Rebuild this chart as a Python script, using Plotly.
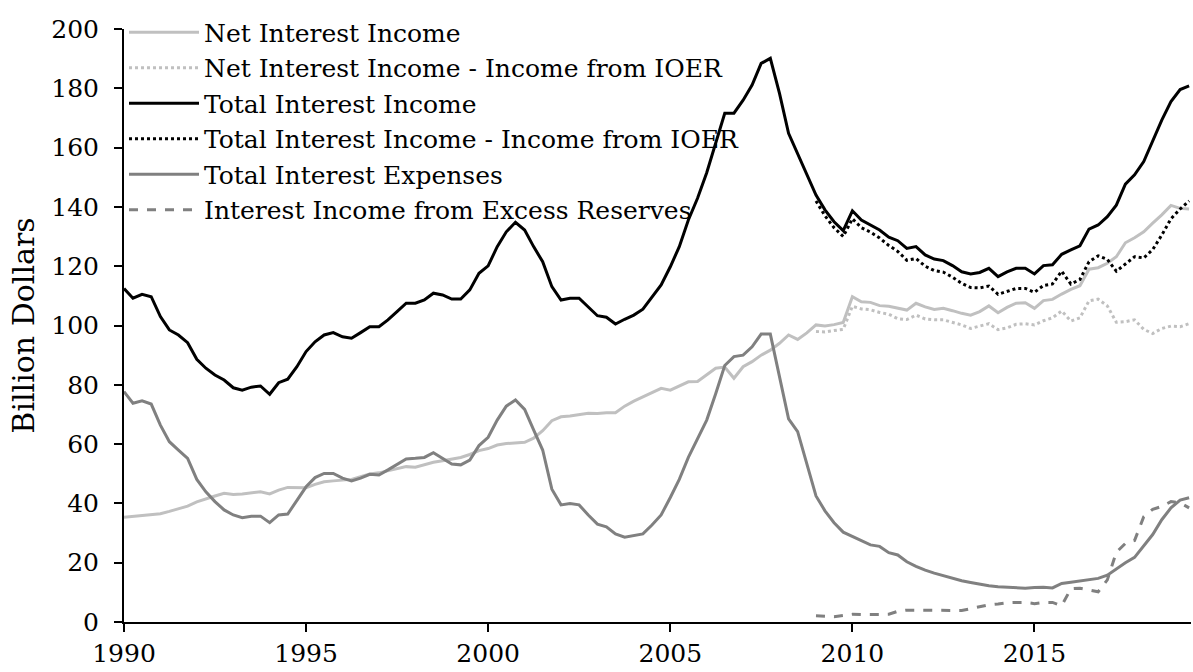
import pandas as pd
import plotly.graph_objects as go

# quarterly observations, 1990Q1 .. 2019Q2
quarters = pd.date_range("1990-01-01", "2019-04-01", freq="QS")
ioer_quarters = pd.date_range("2009-01-01", "2019-04-01", freq="QS")

net_interest_income = [
    35.3, 35.6, 35.9, 36.2, 36.5, 37.3, 38.2, 39.1, 40.5, 41.6, 42.5, 43.4,
    43.0, 43.2, 43.5, 43.9, 43.2, 44.5, 45.4, 45.4, 45.3, 46.4, 47.3, 47.6,
    47.9, 48.1, 49.0, 49.9, 50.3, 51.0, 51.8, 52.4, 52.2, 53.1, 53.9, 54.4,
    54.9, 55.5, 56.5, 57.8, 58.5, 59.7, 60.2, 60.5, 60.6, 62.0, 64.5, 67.9,
    69.2, 69.5, 70.0, 70.4, 70.3, 70.6, 70.6, 72.8, 74.5, 76.0, 77.5, 78.8,
    78.2, 79.5, 81.0, 81.1, 83.5, 85.6, 86.0, 82.2, 86.1, 87.8, 90.0, 91.7,
    94.0, 96.8, 95.3, 97.5, 100.2, 99.8, 100.3, 101.0, 109.7, 108.0, 107.8, 106.7,
    106.5, 105.8, 105.2, 107.5, 106.3, 105.4, 105.8, 105.0, 104.1, 103.5, 104.7, 106.6,
    104.3, 106.1, 107.5, 107.7, 105.8, 108.4, 108.8, 110.6, 112.2, 113.4, 119.0, 119.5,
    121.0, 123.2, 127.9, 129.6, 131.6, 134.5, 137.3, 140.5, 139.5, 139.3,
]

total_interest_income = [
    112.5, 109.2, 110.5, 109.7, 103.0, 98.5, 96.8, 94.2, 88.6, 85.6, 83.3, 81.6,
    79.0, 78.2, 79.2, 79.6, 76.8, 80.7, 81.9, 86.1, 91.2, 94.5, 96.8, 97.6,
    96.2, 95.7, 97.6, 99.6, 99.6, 101.9, 104.7, 107.5, 107.5, 108.6, 110.9, 110.3,
    108.9, 108.9, 112.0, 117.6, 120.1, 126.6, 131.6, 134.8, 132.2, 126.6, 121.5, 113.1,
    108.6, 109.2, 109.2, 106.3, 103.3, 102.8, 100.5, 102.1, 103.5, 105.5, 109.7, 113.7,
    119.8, 126.6, 135.6, 142.9, 151.5, 161.5, 171.6, 171.6, 176.0, 181.1, 188.4, 190.1,
    178.3, 164.8, 158.0, 151.0, 144.0, 139.0, 135.0, 132.0, 138.7, 135.6, 134.0, 132.2,
    129.8, 128.6, 126.0, 126.6, 123.8, 122.4, 121.9, 120.2, 118.1, 117.4, 117.9, 119.3,
    116.5, 118.1, 119.3, 119.3, 117.4, 120.2, 120.5, 124.0, 125.5, 126.9, 132.5, 133.9,
    136.7, 140.6, 147.7, 150.8, 155.3, 162.0, 169.3, 175.5, 179.6, 180.8,
]

total_interest_expenses = [
    77.7, 73.8, 74.6, 73.5, 66.4, 60.8, 58.0, 55.2, 48.1, 43.9, 40.6, 37.8,
    36.1, 35.2, 35.7, 35.7, 33.5, 36.1, 36.4, 41.1, 45.6, 48.7, 50.1, 50.1,
    48.5, 47.6, 48.5, 49.8, 49.6, 51.3, 53.2, 55.0, 55.2, 55.5, 57.1, 55.2,
    53.3, 53.0, 54.6, 59.5, 62.3, 68.1, 72.8, 74.9, 71.7, 64.8, 58.0, 44.8,
    39.5, 40.0, 39.5, 36.1, 33.0, 32.1, 29.7, 28.6, 29.1, 29.7, 32.7, 36.1,
    42.0, 48.1, 55.5, 61.9, 68.1, 77.0, 86.5, 89.5, 90.0, 92.8, 97.1, 97.1,
    83.0, 68.5, 64.2, 53.5, 42.5, 37.5, 33.5, 30.3, 28.8, 27.5, 26.0, 25.5,
    23.4, 22.6, 20.3, 18.8, 17.5, 16.5, 15.6, 14.7, 13.9, 13.3, 12.7, 12.2,
    11.9, 11.8, 11.6, 11.4, 11.6, 11.7, 11.5, 13.0, 13.4, 13.9, 14.4, 14.7,
    15.8, 18.0, 20.0, 21.8, 25.5, 29.5, 34.5, 38.5, 41.1, 41.9,
]

# from 2009Q1 on
nii_less_ioer = [
    98.0, 97.8, 98.3, 98.7, 106.5, 105.6, 105.3, 104.4, 103.8, 102.3, 102.0, 103.5,
    102.2, 101.9, 101.9, 101.0, 100.2, 99.0, 99.7, 100.6, 98.6, 99.2, 100.4, 100.6,
    100.2, 101.6, 102.6, 104.9, 101.5, 102.6, 108.3, 108.9, 106.6, 101.1, 101.3, 101.9,
    98.7, 97.3, 99.0, 99.8, 99.6, 100.6,
]

tii_less_ioer = [
    142.0, 137.0, 133.0, 130.0, 136.0, 133.0, 131.5, 129.5, 127.0, 125.0, 122.0, 122.6,
    120.0, 118.5, 118.0, 116.3, 114.2, 112.8, 112.7, 113.3, 110.5, 111.5, 112.5, 112.5,
    111.2, 113.5, 114.0, 118.3, 114.0, 115.5, 121.5, 123.5, 122.3, 118.3, 120.8, 123.2,
    122.8, 125.6, 130.5, 136.0, 139.3, 142.0,
]

income_from_ioer = [
    2.1, 2.0, 1.8, 2.2, 2.6, 2.5, 2.4, 2.5, 2.6, 3.6, 4.0, 4.0,
    4.0, 3.9, 3.8, 3.8, 3.9, 4.5, 5.2, 5.8, 6.1, 6.5, 6.6, 6.6,
    6.2, 6.6, 6.6, 5.5, 11.2, 11.4, 10.8, 10.2, 14.2, 23.5, 26.5, 27.5,
    35.5, 38.0, 39.0, 40.6, 40.2, 38.5,
]

light = "#c0c0c0"
mid = "#808080"

series = [
    ("Net Interest Income", quarters, net_interest_income, light, "solid"),
    ("Net Interest Income - Income from IOER", ioer_quarters, nii_less_ioer, light, "dot"),
    ("Total Interest Income", quarters, total_interest_income, "black", "solid"),
    ("Total Interest Income - Income from IOER", ioer_quarters, tii_less_ioer, "black", "dot"),
    ("Total Interest Expenses", quarters, total_interest_expenses, mid, "solid"),
    ("Interest Income from Excess Reserves", ioer_quarters, income_from_ioer, mid, "dash"),
]

fig = go.Figure()
for name, x, y, color, dash in series:
    fig.add_trace(go.Scatter(x=x, y=y, name=name, mode="lines",
                             line=dict(color=color, width=3, dash=dash)))

font = dict(family="DejaVu Serif, serif", size=25, color="black")

fig.update_layout(
    width=1193, height=672,
    margin=dict(l=124, r=2, t=29, b=50),
    plot_bgcolor="white", paper_bgcolor="white",
    font=font,
    showlegend=True,
    legend=dict(x=0, y=1.033, xanchor="left", yanchor="top", bgcolor="rgba(0,0,0,0)",
                font=dict(size=25), itemwidth=70, tracegroupgap=0),
)
fig.update_xaxes(
    range=["1990-01-01", "2019-04-20"], tickformat="%Y", dtick="M60", tick0="1990-01-01",
    showgrid=False, zeroline=False, showline=True, linecolor="black", linewidth=2,
    ticks="outside", ticklen=8, tickwidth=2, tickcolor="black",
)
fig.update_yaxes(
    range=[0, 200], dtick=20, showgrid=False, zeroline=False,
    showline=True, linecolor="black", linewidth=2,
    ticks="outside", ticklen=8, tickwidth=2, tickcolor="black",
    ticklabelstandoff=10,
    title=dict(text="Billion Dollars", standoff=8),
)

fig.write_html("out.html", config={"displayModeBar": False},
               post_script="document.body.style.margin='0';")
